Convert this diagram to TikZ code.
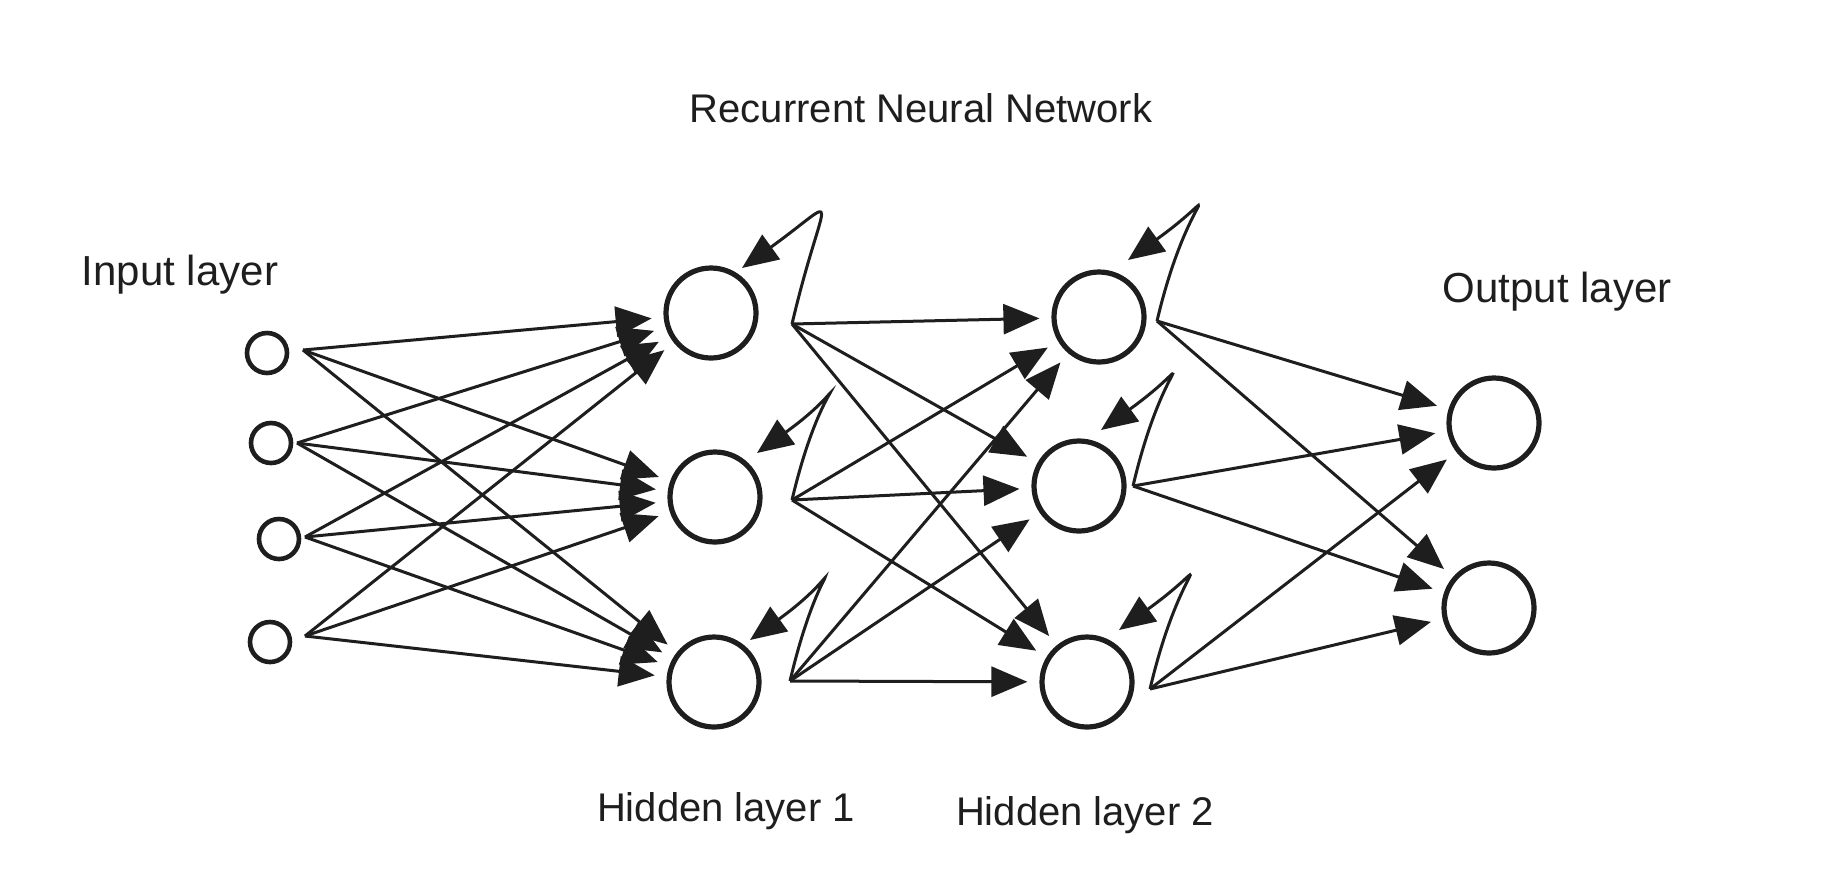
\documentclass[tikz,border=0pt]{standalone}
\usepackage{fontspec}
\setmainfont{Liberation Sans}
\usetikzlibrary{arrows.meta,calc}
\definecolor{ink}{HTML}{1E1E1E}
\begin{document}
\begin{tikzpicture}[x=0.5pt,y=-0.5pt,
  neuron/.style={circle,draw=ink,line width=2.6pt,inner sep=0pt,minimum size=45pt},
  inneuron/.style={neuron,minimum size=20pt,line width=2.3pt},
  tipstyle/.style={-{Triangle[length=18pt,width=15pt]}},
  edge/.style={draw=ink,line width=1.5pt,tipstyle,shorten >=6pt},
  loopedge/.style={draw=ink,line width=1.5pt,tipstyle},
  lbl/.style={text=ink,font=\fontsize{20pt}{24pt}\selectfont,anchor=base,inner sep=0pt}]
\useasboundingbox[fill=white] (0,0) rectangle (1829,874);

% labels
\node[lbl] (title) at (921,122) {Recurrent Neural Network};
\node[lbl,font=\fontsize{21pt}{25pt}\selectfont] (lin) at (180,285) {Input layer};
\node[lbl,font=\fontsize{21pt}{25pt}\selectfont] (lout) at (1557,302) {Output layer};
\node[lbl] (lh1) at (726,821) {Hidden layer 1};
\node[lbl] (lh2) at (1085,825) {Hidden layer 2};

% neurons
\node[inneuron] (i1) at (267,353) {};
\node[inneuron] (i2) at (271,443) {};
\node[inneuron] (i3) at (279,539) {};
\node[inneuron] (i4) at (270,642) {};
\node[neuron] (a1) at (711,313) {};
\node[neuron] (a2) at (715,497) {};
\node[neuron] (a3) at (714,682) {};
\node[neuron] (b1) at (1099,317) {};
\node[neuron] (b2) at (1079,486) {};
\node[neuron] (b3) at (1087,682) {};
\node[neuron] (o1) at (1494,423) {};
\node[neuron] (o2) at (1489,608) {};

% start points of outgoing connectors
\coordinate (i1-s) at ($(i1)+(36,-3)$);
\coordinate (i2-s) at ($(i2)+(26,0)$);
\coordinate (i3-s) at ($(i3)+(26,-2)$);
\coordinate (i4-s) at ($(i4)+(35,-6)$);
\coordinate (a1-s) at ($(a1)+(81,11)$);
\coordinate (a2-s) at ($(a2)+(77,3)$);
\coordinate (a3-s) at ($(a3)+(76,-1)$);
\coordinate (b1-s) at ($(b1)+(58,4)$);
\coordinate (b2-s) at ($(b2)+(54,0)$);
\coordinate (b3-s) at ($(b3)+(63,7)$);

% tips of recurrent loops
\coordinate (a1-t) at ($(a1)+(31,-45)$);
\coordinate (a2-t) at ($(a2)+(42,-44)$);
\coordinate (a3-t) at ($(a3)+(36,-42)$);
\coordinate (b1-t) at ($(b1)+(29,-57)$);
\coordinate (b2-t) at ($(b2)+(22,-56)$);
\coordinate (b3-t) at ($(b3)+(32,-52)$);

% connections
\foreach \s in {i1,i2,i3,i4}
  \foreach \t in {a1,a2,a3}
    \draw[edge] (\s-s) -- (\t);
\foreach \s in {a1,a2,a3}
  \foreach \t in {b1,b2,b3}
    \draw[edge] (\s-s) -- (\t);
\foreach \s in {b1,b2,b3}
  \foreach \t in {o1,o2}
    \draw[edge] (\s-s) -- (\t);

% recurrent loops
\foreach \n in {a1,a2,a3,b1,b2,b3}
  \draw[loopedge] (\n-s) .. controls +(32,-136) and +(104,-75) .. (\n-t);
\end{tikzpicture}
\end{document}
